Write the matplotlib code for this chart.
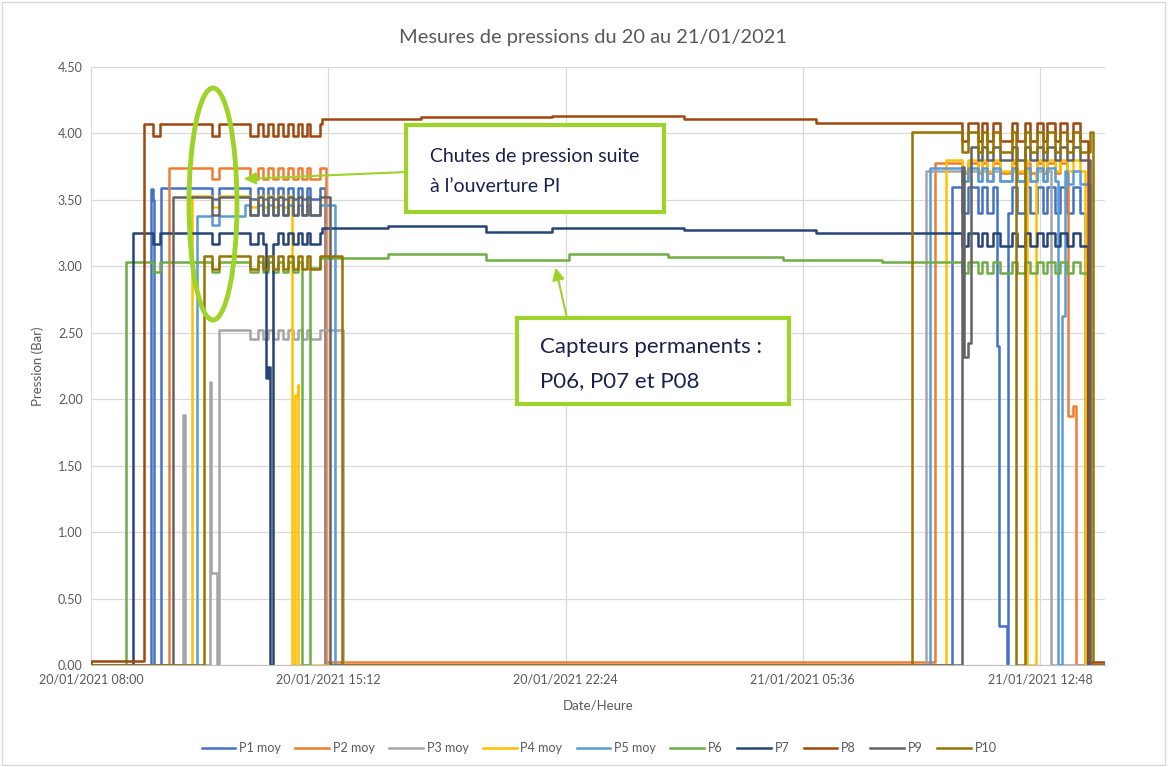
import numpy as np
import matplotlib
matplotlib.use("Agg")
import matplotlib.pyplot as plt
import matplotlib.dates as mdates
from matplotlib.patches import Ellipse, Rectangle
from datetime import datetime

plt.rcParams['font.family'] = ['Lato', 'DejaVu Sans']

# time is in hours after 20/01/2021 08:00
START = datetime(2021, 1, 20, 8, 0)
T_END = 30.77

# intervals where the pressure drops (PI openings)
PI_OPEN = [(1.88, 2.09), (3.67, 3.88), (4.83, 5.07), (5.22, 5.37), (5.52, 5.68),
           (5.83, 5.98), (6.13, 6.28), (6.40, 6.56), (6.65, 6.95),
           (26.43, 26.62), (26.92, 27.04), (27.19, 27.37), (27.59, 27.95),
           (28.10, 28.35), (28.50, 28.71), (28.89, 29.01), (29.26, 29.41),
           (29.62, 29.80), (30.02, 30.30)]

names = ['P1 moy', 'P2 moy', 'P3 moy', 'P4 moy', 'P5 moy', 'P6', 'P7', 'P8', 'P9', 'P10']
colors = ['#4472C4', '#ED7D31', '#A5A5A5', '#FFC000', '#5B9BD5',
          '#70AD47', '#264478', '#9E480E', '#636363', '#997300']

# (start h, end h, level bar) for each sensor
P1 = [(1.83, 1.92, 3.58), (2.12, 7.10, 3.59), (26.13, 27.50, 3.60),
      (27.50, 27.56, 2.40), (27.56, 27.79, 0.29), (27.82, 30.15, 3.60)]
P2 = [(2.37, 7.13, 3.74), (7.13, 25.61, 0.02), (25.61, 29.65, 3.78), (29.65, 29.88, 1.95)]
P3 = [(2.80, 2.86, 1.88), (3.61, 3.64, 2.13), (3.64, 3.82, 0.69), (3.88, 7.65, 2.52),
      (25.34, 29.13, 3.72)]
P4 = [(3.07, 6.10, 3.53), (6.19, 6.29, 2.11), (25.95, 28.41, 3.80), (28.68, 30.15, 3.80)]
P5 = [(3.22, 4.67, 3.38), (4.67, 7.40, 3.46), (25.46, 29.35, 3.74),
      (29.47, 29.56, 2.63), (29.56, 30.30, 3.72)]
P6 = [(1.06, 6.40, 3.03), (6.65, 9.0, 3.06), (9.0, 12.0, 3.09), (12.0, 14.5, 3.05),
      (14.5, 17.5, 3.09), (17.5, 21.0, 3.07), (21.0, 24.0, 3.05), (24.0, 30.25, 3.03)]
P7 = [(1.27, 5.31, 3.25), (5.31, 5.43, 2.24), (5.52, 7.0, 3.25), (7.0, 9.0, 3.29),
      (9.0, 12.0, 3.30), (12.0, 14.0, 3.26), (14.0, 18.0, 3.29), (18.0, 22.0, 3.27),
      (22.0, 30.25, 3.25)]
P8 = [(0.0, 1.61, 0.03), (1.61, 7.0, 4.07), (7.0, 10.0, 4.11), (10.0, 14.0, 4.12),
      (14.0, 18.0, 4.13), (18.0, 22.0, 4.11), (22.0, 30.26, 4.08), (30.26, 30.77, 0.02)]
P9 = [(2.49, 7.25, 3.52), (26.43, 26.50, 3.85), (26.50, 26.70, 2.42), (26.70, 30.30, 3.90)]
P10 = [(3.43, 7.62, 3.08), (24.92, 28.07, 4.01), (28.35, 30.40, 4.01)]

periods = [P1, P2, P3, P4, P5, P6, P7, P8, P9, P10]
# drop during PI opening: (first day, second day)
dips = [(0.08, 0.20), (0.08, 0.08), (0.07, 0.08), (0.08, 0.08), (0.07, 0.10),
        (0.07, 0.08), (0.08, 0.10), (0.09, 0.14), (0.13, 0.10), (0.10, 0.15)]


def build(per, dip_l, dip_r):
    t, v = [0.0], [0.0]
    for i, (s, e, lvl) in enumerate(per):
        edges = {s, e}
        if lvl > 1.0:
            for a, b in PI_OPEN:
                for x in (a, b):
                    if s < x < e:
                        edges.add(x)
        edges = sorted(edges)
        for a, b in zip(edges[:-1], edges[1:]):
            m = 0.5 * (a + b)
            val = lvl
            if lvl > 1.0:
                for pa, pb in PI_OPEN:
                    if pa <= m < pb:
                        val = lvl - (dip_l if pa < 15 else dip_r)
            t.append(a)
            v.append(val)
        nxt = per[i + 1][0] if i + 1 < len(per) else None
        if e >= T_END:
            continue
        if nxt is None or abs(nxt - e) > 1e-6:
            t.append(e)
            v.append(0.0)
    t.append(T_END)
    v.append(v[-1])
    return np.array(t), np.array(v)


fig = plt.figure(figsize=(11.69, 7.67), dpi=100)
ax = fig.add_axes([91 / 1169, 102 / 767, 1014 / 1169, 598 / 767])

x0 = mdates.date2num(START)
for name, col, per, (dl, dr) in zip(names, colors, periods, dips):
    t, v = build(per, dl, dr)
    ax.plot(x0 + t / 24, v, drawstyle='steps-post', color=col, lw=1.8, label=name)

ax.set_xlim(x0, x0 + T_END / 24)
ax.set_ylim(0, 4.5)
ax.set_xticks([x0 + 7.2 * k / 24 for k in range(5)])
ax.xaxis.set_major_formatter(mdates.DateFormatter('%d/%m/%Y %H:%M'))
ax.set_yticks(np.arange(0, 4.51, 0.5))
ax.yaxis.set_major_formatter(plt.FormatStrFormatter('%.2f'))
ax.tick_params(length=0, labelsize=9, colors='#595959', pad=6)
ax.grid(color='#D9D9D9', lw=0.9)
ax.set_axisbelow(True)
for sp in ['top', 'right', 'left']:
    ax.spines[sp].set_visible(False)
ax.spines['bottom'].set_color('#BFBFBF')

ax.set_ylabel('Pression (Bar)', fontsize=9.5, color='#595959', labelpad=10)
ax.set_xlabel('Date/Heure', fontsize=9.5, color='#595959', labelpad=10)
fig.text(593 / 1169, 1 - 37 / 767, 'Mesures de pressions du 20 au 21/01/2021',
         ha='center', va='center', fontsize=14.4, color='#595959')

fig.legend(loc='center', bbox_to_anchor=(599 / 1169, 1 - 748 / 767), ncol=10,
           frameon=False, fontsize=9, handlelength=2.7, columnspacing=1.15,
           handletextpad=0.3, labelcolor='#595959')

# annotations
lime = '#9ED32A'
ink = '#1A1F4E'
ax.add_patch(Rectangle((0.3107, 0.7575), 0.2544, 0.1455, transform=ax.transAxes,
                       fc='white', ec=lime, lw=3, zorder=20, clip_on=False))
ax.text(0.3343, 0.8253, 'Chutes de pression suite\nà l\u2019ouverture PI',
        transform=ax.transAxes, fontsize=14, color=ink, va='center', ha='left',
        linespacing=1.95, zorder=21)
ax.add_patch(Rectangle((0.4201, 0.4365), 0.2683, 0.1438, transform=ax.transAxes,
                       fc='white', ec=lime, lw=3, zorder=20, clip_on=False))
ax.text(0.4428, 0.5033, 'Capteurs permanents :\nP06, P07 et P08',
        transform=ax.transAxes, fontsize=16, color=ink, va='center', ha='left',
        linespacing=1.85, zorder=21)
ax.annotate('', xy=(0.1479, 0.8127), xytext=(0.3107, 0.8244), xycoords='axes fraction',
            arrowprops=dict(arrowstyle='-|>', color=lime, lw=1.5, mutation_scale=18),
            zorder=22)
ax.annotate('', xy=(0.4576, 0.6689), xytext=(0.4694, 0.5803), xycoords='axes fraction',
            arrowprops=dict(arrowstyle='-|>', color=lime, lw=1.5, mutation_scale=18),
            zorder=22)
ax.add_patch(Ellipse((0.1203, 0.7709), 0.0473, 0.388, transform=ax.transAxes,
                     fill=False, ec=lime, lw=3.5, zorder=22))

fig.patches.append(Rectangle((0.002, 0.003), 0.995, 0.994, transform=fig.transFigure,
                             fill=False, ec='#D9D9D9', lw=1))

fig.savefig('out.png', dpi=100)
